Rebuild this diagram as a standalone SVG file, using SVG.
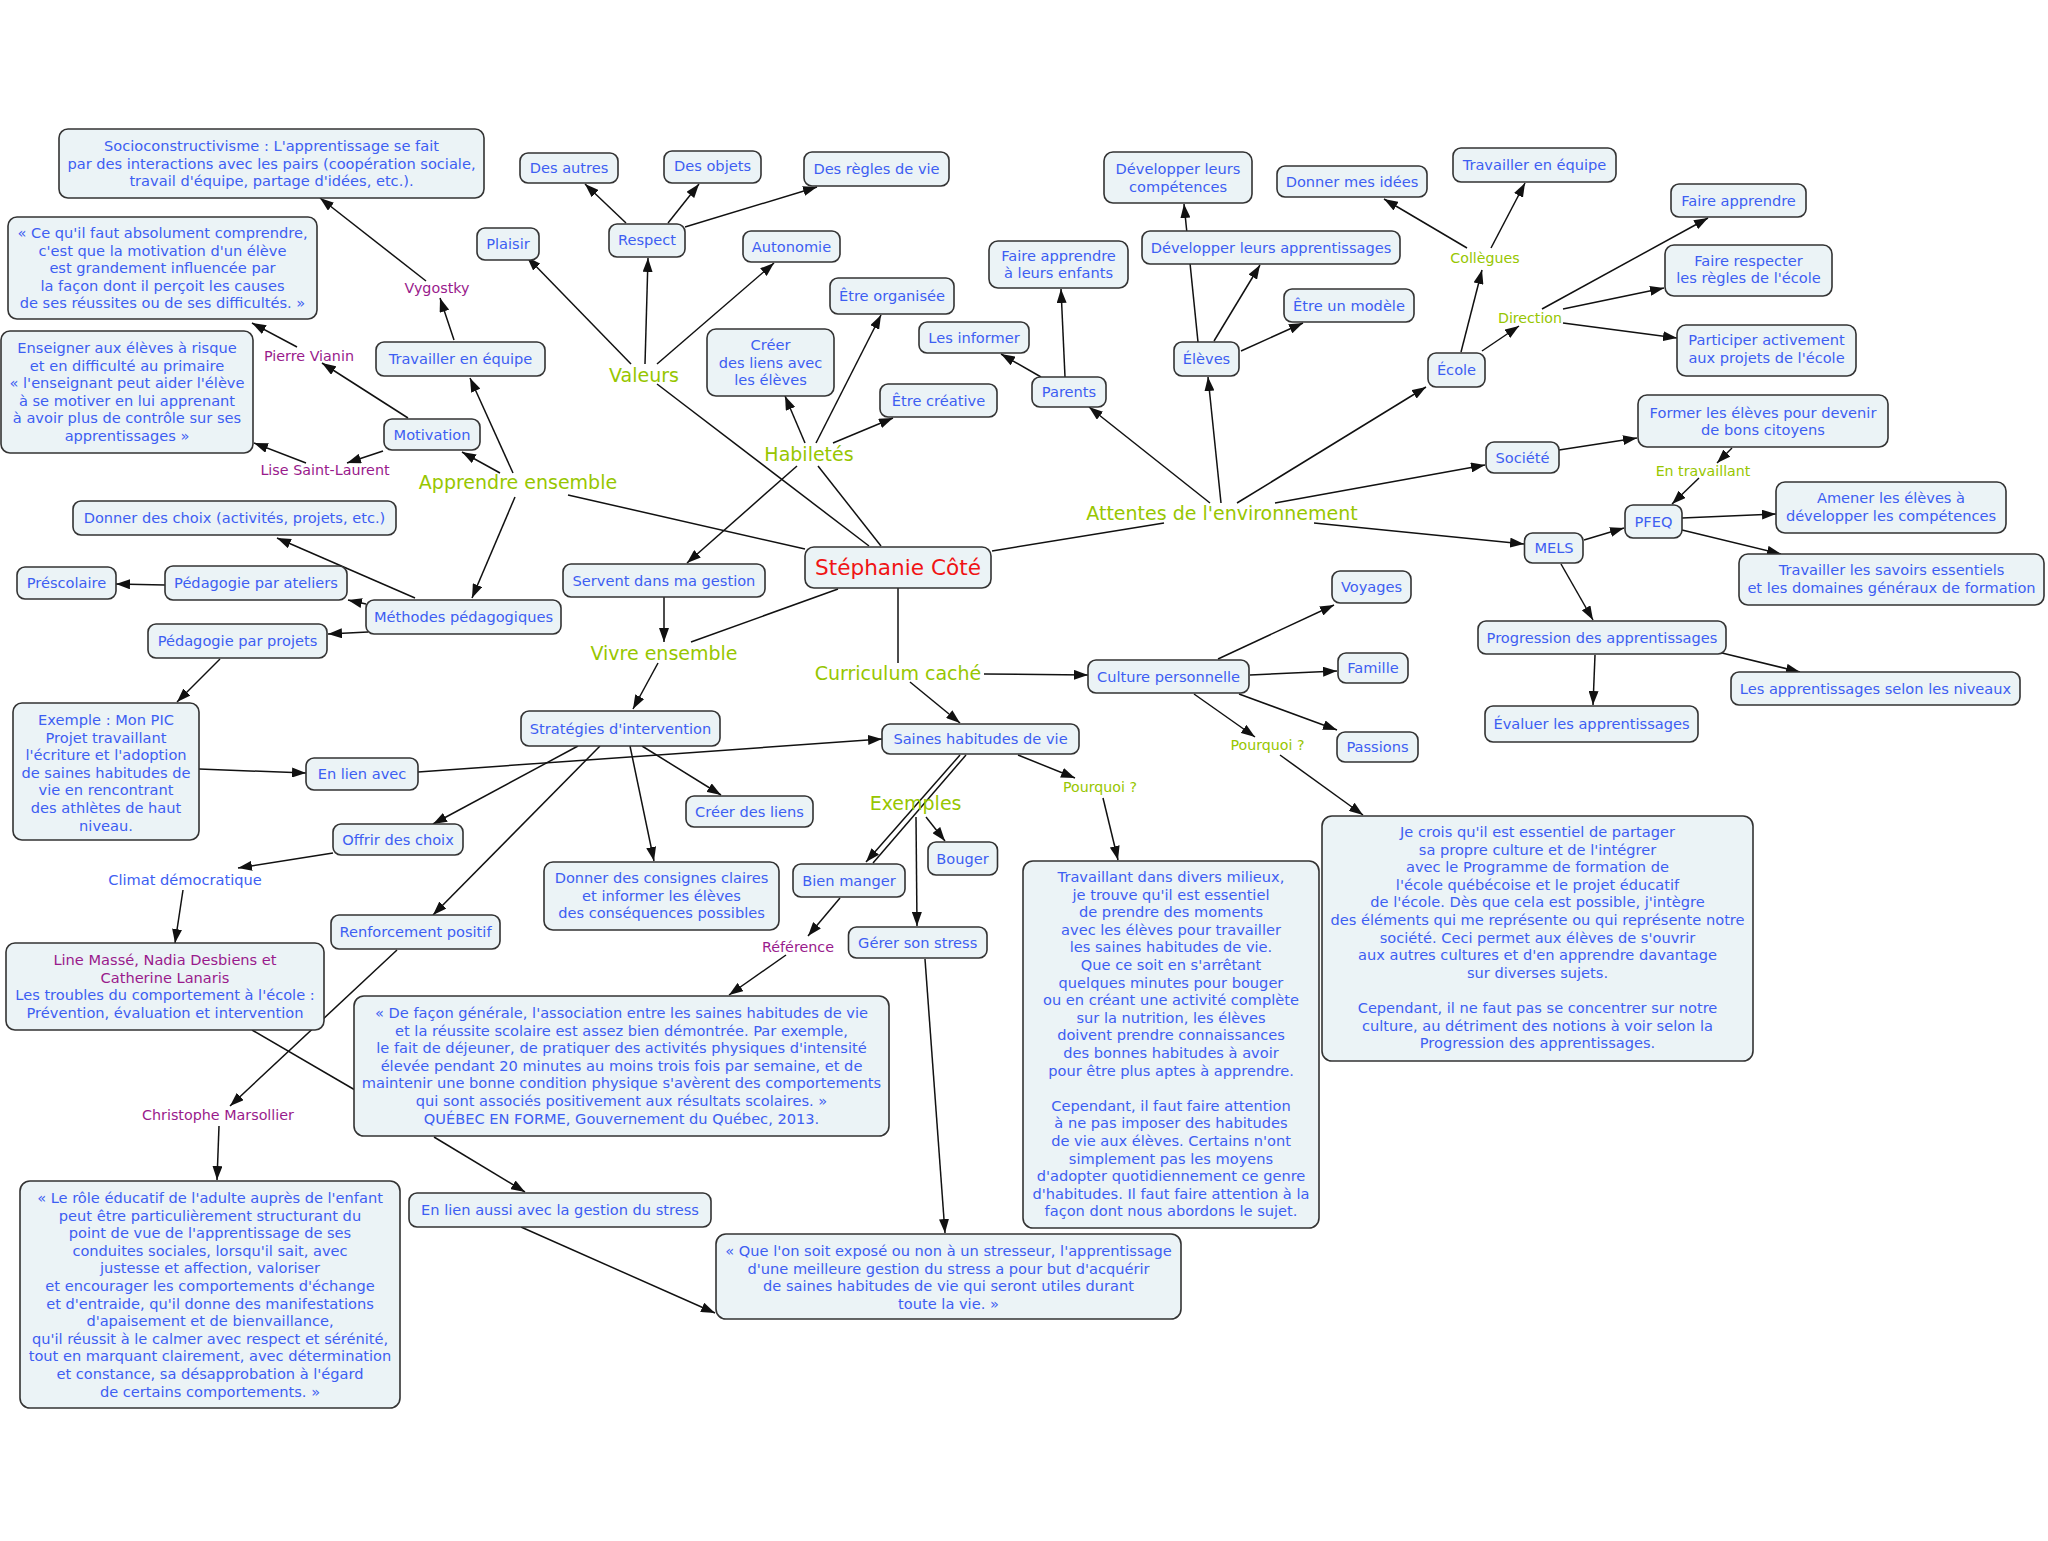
<svg xmlns="http://www.w3.org/2000/svg" width="2048" height="1541" viewBox="0 0 2048 1541">
<style>
rect{fill:#ebf3f6;stroke:#333;stroke-width:1.6}
text{font-family:"DejaVu Sans",Verdana,sans-serif;font-size:14.6px;fill:#3d5ef2;text-anchor:middle}
.g{fill:#97c600;font-size:19px}
.gs{fill:#97c600;font-size:14.2px}
.p{fill:#991a8c}
text.p{font-size:14.3px}
.r{fill:#f01414;font-size:21.6px}
#conn line{stroke:#111;stroke-width:1.5}
#conn line.a{marker-end:url(#ah)}
</style>
<defs>
<marker id="ah" viewBox="0 0 14 10" refX="14" refY="5" markerWidth="14" markerHeight="10" markerUnits="userSpaceOnUse" orient="auto"><path d="M0,0L14,5L0,10z" fill="#111"/></marker>
</defs>
<rect x="0" y="0" width="2048" height="1541" style="fill:#fff;stroke:none"/>
<g id="conn">
<line x1="568" y1="495" x2="805" y2="549"/>
<line x1="657" y1="384" x2="869" y2="546"/>
<line x1="818" y1="466" x2="881" y2="546"/>
<line x1="691" y1="642" x2="838" y2="589"/>
<line x1="898" y1="588" x2="898" y2="663"/>
<line x1="992" y1="551" x2="1164" y2="523"/>
<line x1="252" y1="1030" x2="355" y2="1090"/>
<line x1="966" y1="755" x2="873" y2="863"/>
<line class="a" x1="408" y1="418" x2="322" y2="363"/>
<line class="a" x1="297" y1="347" x2="252" y2="323"/>
<line class="a" x1="383" y1="451" x2="347" y2="463"/>
<line class="a" x1="306" y1="463" x2="254" y2="443"/>
<line class="a" x1="454" y1="340" x2="440" y2="298"/>
<line class="a" x1="426" y1="281" x2="320" y2="198"/>
<line class="a" x1="500" y1="473" x2="462" y2="452"/>
<line class="a" x1="513" y1="473" x2="470" y2="378"/>
<line class="a" x1="515" y1="497" x2="472" y2="598"/>
<line class="a" x1="415" y1="598" x2="277" y2="538"/>
<line class="a" x1="366" y1="604" x2="348" y2="600"/>
<line class="a" x1="368" y1="632" x2="328" y2="634"/>
<line class="a" x1="165" y1="585" x2="116" y2="584"/>
<line class="a" x1="220" y1="659" x2="177" y2="702"/>
<line class="a" x1="199" y1="769" x2="306" y2="773"/>
<line class="a" x1="418" y1="772" x2="882" y2="739"/>
<line class="a" x1="664" y1="597" x2="664" y2="642"/>
<line class="a" x1="658" y1="663" x2="633" y2="709"/>
<line class="a" x1="642" y1="746" x2="721" y2="795"/>
<line class="a" x1="630" y1="746" x2="654" y2="861"/>
<line class="a" x1="578" y1="746" x2="433" y2="824"/>
<line class="a" x1="600" y1="746" x2="433" y2="915"/>
<line class="a" x1="333" y1="853" x2="238" y2="868"/>
<line class="a" x1="183" y1="890" x2="175" y2="943"/>
<line class="a" x1="397" y1="950" x2="230" y2="1106"/>
<line class="a" x1="219" y1="1126" x2="217" y2="1180"/>
<line class="a" x1="984" y1="674" x2="1088" y2="675"/>
<line class="a" x1="910" y1="682" x2="960" y2="723"/>
<line class="a" x1="960" y1="755" x2="866" y2="862"/>
<line class="a" x1="916" y1="817" x2="917" y2="926"/>
<line class="a" x1="926" y1="817" x2="945" y2="841"/>
<line class="a" x1="1018" y1="755" x2="1075" y2="778"/>
<line class="a" x1="1103" y1="798" x2="1118" y2="860"/>
<line class="a" x1="840" y1="898" x2="808" y2="936"/>
<line class="a" x1="786" y1="955" x2="729" y2="995"/>
<line class="a" x1="434" y1="1137" x2="525" y2="1192"/>
<line class="a" x1="521" y1="1227" x2="715" y2="1313"/>
<line class="a" x1="925" y1="959" x2="945" y2="1233"/>
<line class="a" x1="1218" y1="659" x2="1334" y2="605"/>
<line class="a" x1="1250" y1="675" x2="1337" y2="671"/>
<line class="a" x1="1239" y1="694" x2="1337" y2="730"/>
<line class="a" x1="1194" y1="694" x2="1255" y2="737"/>
<line class="a" x1="1280" y1="755" x2="1363" y2="815"/>
<line class="a" x1="1210" y1="503" x2="1089" y2="407"/>
<line class="a" x1="1221" y1="503" x2="1208" y2="377"/>
<line class="a" x1="1237" y1="503" x2="1426" y2="387"/>
<line class="a" x1="1275" y1="503" x2="1485" y2="465"/>
<line class="a" x1="1314" y1="523" x2="1524" y2="544"/>
<line class="a" x1="1041" y1="377" x2="1001" y2="354"/>
<line class="a" x1="1065" y1="377" x2="1061" y2="289"/>
<line class="a" x1="1198" y1="342" x2="1184" y2="204"/>
<line class="a" x1="1214" y1="341" x2="1260" y2="265"/>
<line class="a" x1="1241" y1="351" x2="1303" y2="323"/>
<line class="a" x1="1461" y1="352" x2="1482" y2="270"/>
<line class="a" x1="1467" y1="248" x2="1384" y2="199"/>
<line class="a" x1="1491" y1="248" x2="1525" y2="183"/>
<line class="a" x1="1482" y1="351" x2="1519" y2="326"/>
<line class="a" x1="1542" y1="309" x2="1708" y2="218"/>
<line class="a" x1="1563" y1="309" x2="1664" y2="288"/>
<line class="a" x1="1563" y1="323" x2="1677" y2="338"/>
<line class="a" x1="1559" y1="450" x2="1637" y2="438"/>
<line class="a" x1="1732" y1="448" x2="1717" y2="463"/>
<line class="a" x1="1699" y1="478" x2="1672" y2="504"/>
<line class="a" x1="1584" y1="540" x2="1624" y2="528"/>
<line class="a" x1="1682" y1="518" x2="1776" y2="514"/>
<line class="a" x1="1682" y1="530" x2="1781" y2="554"/>
<line class="a" x1="1561" y1="564" x2="1593" y2="620"/>
<line class="a" x1="1595" y1="655" x2="1593" y2="705"/>
<line class="a" x1="1722" y1="653" x2="1800" y2="672"/>
<line class="a" x1="631" y1="364" x2="527" y2="257"/>
<line class="a" x1="645" y1="364" x2="648" y2="258"/>
<line class="a" x1="657" y1="364" x2="774" y2="263"/>
<line class="a" x1="626" y1="223" x2="585" y2="184"/>
<line class="a" x1="668" y1="223" x2="699" y2="184"/>
<line class="a" x1="685" y1="227" x2="817" y2="187"/>
<line class="a" x1="805" y1="443" x2="785" y2="396"/>
<line class="a" x1="816" y1="443" x2="881" y2="315"/>
<line class="a" x1="833" y1="443" x2="893" y2="418"/>
<line class="a" x1="797" y1="466" x2="687" y2="563"/>
</g>
<g id="socio"><rect x="59" y="129" width="425" height="69" rx="9"/><text><tspan x="271.5" y="151">Socioconstructivisme : L'apprentissage se fait</tspan><tspan x="271.5" y="169">par des interactions avec les pairs (coopération sociale,</tspan><tspan x="271.5" y="186">travail d'équipe, partage d'idées, etc.).</tspan></text></g>
<g id="cequil"><rect x="8" y="217" width="309" height="102" rx="9"/><text><tspan x="162.5" y="238">« Ce qu'il faut absolument comprendre,</tspan><tspan x="162.5" y="255.6">c'est que la motivation d'un élève</tspan><tspan x="162.5" y="273.2">est grandement influencée par</tspan><tspan x="162.5" y="290.8">la façon dont il perçoit les causes</tspan><tspan x="162.5" y="308.4">de ses réussites ou de ses difficultés. »</tspan></text></g>
<g id="enseigner"><rect x="1" y="331" width="252" height="122" rx="9"/><text><tspan x="127" y="353">Enseigner aux élèves à risque</tspan><tspan x="127" y="370.6">et en difficulté au primaire</tspan><tspan x="127" y="388.2">« l'enseignant peut aider l'élève</tspan><tspan x="127" y="405.8">à se motiver en lui apprenant</tspan><tspan x="127" y="423.4">à avoir plus de contrôle sur ses</tspan><tspan x="127" y="441">apprentissages »</tspan></text></g>
<g id="vygostky"><text class="p" x="437" y="293">Vygostky</text></g>
<g id="vianin"><text class="p" x="309" y="361">Pierre Vianin</text></g>
<g id="lise"><text class="p" x="325" y="475">Lise Saint-Laurent</text></g>
<g id="traveqL"><rect x="376" y="342" width="169" height="34" rx="8"/><text x="460.5" y="364">Travailler en équipe</text></g>
<g id="motivation"><rect x="384" y="419" width="96" height="31" rx="8"/><text x="432" y="439.5">Motivation</text></g>
<g id="apprendre"><text class="g" x="518" y="489">Apprendre ensemble</text></g>
<g id="plaisir"><rect x="477" y="228" width="62" height="32" rx="8"/><text x="508" y="249">Plaisir</text></g>
<g id="desautres"><rect x="520" y="153" width="98" height="30" rx="8"/><text x="569" y="173">Des autres</text></g>
<g id="desobjets"><rect x="664" y="151" width="97" height="32" rx="8"/><text x="712.5" y="171">Des objets</text></g>
<g id="desregles"><rect x="804" y="152" width="145" height="34" rx="8"/><text x="876.5" y="174">Des règles de vie</text></g>
<g id="respect"><rect x="609" y="224" width="76" height="33" rx="8"/><text x="647" y="244.5">Respect</text></g>
<g id="autonomie"><rect x="743" y="231" width="97" height="31" rx="8"/><text x="791.5" y="251.5">Autonomie</text></g>
<g id="valeurs"><text class="g" x="644" y="382">Valeurs</text></g>
<g id="organisee"><rect x="830" y="278" width="124" height="36" rx="8"/><text x="892" y="301">Être organisée</text></g>
<g id="creerliensavec"><rect x="707" y="329" width="127" height="67" rx="9"/><text><tspan x="770.5" y="350">Créer</tspan><tspan x="770.5" y="367.6">des liens avec</tspan><tspan x="770.5" y="385.2">les élèves</tspan></text></g>
<g id="informer"><rect x="919" y="322" width="110" height="31" rx="8"/><text x="974" y="342.5">Les informer</text></g>
<g id="creative"><rect x="880" y="384" width="117" height="33" rx="8"/><text x="938.5" y="405.5">Être créative</text></g>
<g id="habiletes"><text class="g" x="809" y="461">Habiletés</text></g>
<g id="faireapprendreenf"><rect x="989" y="241" width="139" height="47" rx="9"/><text><tspan x="1058.5" y="260.7">Faire apprendre</tspan><tspan x="1058.5" y="278.3">à leurs enfants</tspan></text></g>
<g id="devcomp"><rect x="1104" y="152" width="148" height="51" rx="9"/><text><tspan x="1178" y="174">Développer leurs</tspan><tspan x="1178" y="191.6">compétences</tspan></text></g>
<g id="donneridees"><rect x="1277" y="166" width="150" height="31" rx="8"/><text x="1352" y="186.5">Donner mes idées</text></g>
<g id="traveqR"><rect x="1453" y="148" width="163" height="34" rx="8"/><text x="1534.5" y="170">Travailler en équipe</text></g>
<g id="devapp"><rect x="1142" y="231" width="258" height="33" rx="8"/><text x="1271" y="252.5">Développer leurs apprentissages</text></g>
<g id="modele"><rect x="1284" y="289" width="130" height="33" rx="8"/><text x="1349" y="310.5">Être un modèle</text></g>
<g id="eleves"><rect x="1174" y="342" width="65" height="34" rx="8"/><text x="1206.5" y="364">Élèves</text></g>
<g id="parents"><rect x="1032" y="377" width="74" height="30" rx="8"/><text x="1069" y="397">Parents</text></g>
<g id="collegues"><text class="gs" x="1485" y="263">Collègues</text></g>
<g id="ecole"><rect x="1428" y="353" width="57" height="34" rx="8"/><text x="1456.5" y="375">École</text></g>
<g id="direction"><text class="gs" x="1530" y="323">Direction</text></g>
<g id="faireapprendre"><rect x="1671" y="184" width="135" height="33" rx="8"/><text x="1738.5" y="205.5">Faire apprendre</text></g>
<g id="fairerespecter"><rect x="1665" y="245" width="167" height="51" rx="9"/><text><tspan x="1748.5" y="265.7">Faire respecter</tspan><tspan x="1748.5" y="283">les règles de l'école</tspan></text></g>
<g id="participer"><rect x="1677" y="325" width="179" height="51" rx="9"/><text><tspan x="1766.5" y="345.3">Participer activement</tspan><tspan x="1766.5" y="362.7">aux projets de l'école</tspan></text></g>
<g id="societe"><rect x="1486" y="442" width="73" height="31" rx="8"/><text x="1522.5" y="462.5">Société</text></g>
<g id="former"><rect x="1638" y="395" width="250" height="52" rx="9"/><text><tspan x="1763" y="417.7">Former les élèves pour devenir</tspan><tspan x="1763" y="435.3">de bons citoyens</tspan></text></g>
<g id="entravaillant"><text class="gs" x="1703" y="476">En travaillant</text></g>
<g id="pfeq"><rect x="1625" y="505" width="57" height="33" rx="8"/><text x="1653.5" y="526.5">PFEQ</text></g>
<g id="mels"><rect x="1524.5" y="533" width="58.5" height="30" rx="8"/><text x="1554" y="553">MELS</text></g>
<g id="amener"><rect x="1776" y="482" width="230" height="51" rx="9"/><text><tspan x="1891" y="503.3">Amener les élèves à</tspan><tspan x="1891" y="521">développer les compétences</tspan></text></g>
<g id="savoirs"><rect x="1739" y="554" width="305" height="51" rx="9"/><text><tspan x="1891.5" y="575">Travailler les savoirs essentiels</tspan><tspan x="1891.5" y="592.7">et les domaines généraux de formation</tspan></text></g>
<g id="progression"><rect x="1478" y="621" width="248" height="33" rx="8"/><text x="1602" y="642.5">Progression des apprentissages</text></g>
<g id="niveaux"><rect x="1731" y="672" width="289" height="33" rx="8"/><text x="1875.5" y="693.5">Les apprentissages selon les niveaux</text></g>
<g id="evaluer"><rect x="1485" y="706" width="213" height="36" rx="8"/><text x="1591.5" y="729">Évaluer les apprentissages</text></g>
<g id="attentes"><text class="g" x="1222" y="520">Attentes de l'environnement</text></g>
<g id="stephanie"><rect x="805" y="547" width="186" height="41" rx="9"/><text class="r" x="898" y="575">Stéphanie Côté</text></g>
<g id="servent"><rect x="563" y="564" width="202" height="33" rx="8"/><text x="664" y="585.5">Servent dans ma gestion</text></g>
<g id="vivre"><text class="g" x="664" y="660">Vivre ensemble</text></g>
<g id="curriculum"><text class="g" x="898" y="680">Curriculum caché</text></g>
<g id="culture"><rect x="1088" y="660" width="161" height="33" rx="8"/><text x="1168.5" y="681.5">Culture personnelle</text></g>
<g id="voyages"><rect x="1332" y="571" width="79" height="32" rx="8"/><text x="1371.5" y="592">Voyages</text></g>
<g id="famille"><rect x="1338" y="653" width="70" height="30" rx="8"/><text x="1373" y="673">Famille</text></g>
<g id="passions"><rect x="1337" y="732" width="81" height="30" rx="8"/><text x="1377.5" y="752">Passions</text></g>
<g id="pourquoiR"><text class="gs" x="1267.5" y="750">Pourquoi ?</text></g>
<g id="pourquoiL"><text class="gs" x="1100" y="792">Pourquoi ?</text></g>
<g id="jecrois"><rect x="1322" y="816" width="431" height="245" rx="10"/><text><tspan x="1537.5" y="837">Je crois qu'il est essentiel de partager</tspan><tspan x="1537.5" y="854.6">sa propre culture et de l'intégrer</tspan><tspan x="1537.5" y="872.2">avec le Programme de formation de</tspan><tspan x="1537.5" y="889.8">l'école québécoise et le projet éducatif</tspan><tspan x="1537.5" y="907.4">de l'école. Dès que cela est possible, j'intègre</tspan><tspan x="1537.5" y="925">des éléments qui me représente ou qui représente notre</tspan><tspan x="1537.5" y="942.6">société. Ceci permet aux élèves de s'ouvrir</tspan><tspan x="1537.5" y="960.2">aux autres cultures et d'en apprendre davantage</tspan><tspan x="1537.5" y="977.8">sur diverses sujets.</tspan><tspan x="1537.5" y="1013">Cependant, il ne faut pas se concentrer sur notre</tspan><tspan x="1537.5" y="1030.6">culture, au détriment des notions à voir selon la</tspan><tspan x="1537.5" y="1048.2">Progression des apprentissages.</tspan></text></g>
<g id="saines"><rect x="882" y="724" width="197" height="30" rx="8"/><text x="980.5" y="744">Saines habitudes de vie</text></g>
<g id="strategies"><rect x="521" y="711" width="199" height="35" rx="8"/><text x="620.5" y="733.5">Stratégies d'intervention</text></g>
<g id="creerliens"><rect x="686" y="796" width="127" height="31" rx="8"/><text x="749.5" y="816.5">Créer des liens</text></g>
<g id="consignes"><rect x="544" y="862" width="235" height="68" rx="9"/><text><tspan x="661.5" y="883">Donner des consignes claires</tspan><tspan x="661.5" y="900.6">et informer les élèves</tspan><tspan x="661.5" y="918.2">des conséquences possibles</tspan></text></g>
<g id="exemples"><text class="g" x="915.6" y="810">Exemples</text></g>
<g id="bouger"><rect x="928" y="842" width="69.5" height="33" rx="8"/><text x="962.5" y="863.5">Bouger</text></g>
<g id="bienmanger"><rect x="793" y="864" width="112" height="33" rx="8"/><text x="849" y="885.5">Bien manger</text></g>
<g id="reference"><text class="p" x="798" y="952">Référence</text></g>
<g id="stress"><rect x="848.5" y="927" width="138.5" height="31" rx="8"/><text x="917.7" y="947.5">Gérer son stress</text></g>
<g id="travaillant"><rect x="1023" y="861" width="296" height="367" rx="10"/><text><tspan x="1171" y="882">Travaillant dans divers milieux,</tspan><tspan x="1171" y="899.6">je trouve qu'il est essentiel</tspan><tspan x="1171" y="917.2">de prendre des moments</tspan><tspan x="1171" y="934.8">avec les élèves pour travailler</tspan><tspan x="1171" y="952.4">les saines habitudes de vie.</tspan><tspan x="1171" y="970">Que ce soit en s'arrêtant</tspan><tspan x="1171" y="987.6">quelques minutes pour bouger</tspan><tspan x="1171" y="1005.2">ou en créant une activité complète</tspan><tspan x="1171" y="1022.8">sur la nutrition, les élèves</tspan><tspan x="1171" y="1040.4">doivent prendre connaissances</tspan><tspan x="1171" y="1058">des bonnes habitudes à avoir</tspan><tspan x="1171" y="1075.6">pour être plus aptes à apprendre.</tspan><tspan x="1171" y="1110.8">Cependant, il faut faire attention</tspan><tspan x="1171" y="1128.4">à ne pas imposer des habitudes</tspan><tspan x="1171" y="1146">de vie aux élèves. Certains n'ont</tspan><tspan x="1171" y="1163.6">simplement pas les moyens</tspan><tspan x="1171" y="1181.2">d'adopter quotidiennement ce genre</tspan><tspan x="1171" y="1198.8">d'habitudes. Il faut faire attention à la</tspan><tspan x="1171" y="1216.4">façon dont nous abordons le sujet.</tspan></text></g>
<g id="methodes"><rect x="366" y="600" width="195" height="34" rx="8"/><text x="463.5" y="622">Méthodes pédagogiques</text></g>
<g id="donnerchoix"><rect x="73" y="501" width="323" height="34" rx="8"/><text x="234.5" y="523">Donner des choix (activités, projets, etc.)</text></g>
<g id="prescolaire"><rect x="17" y="567" width="99" height="32" rx="8"/><text x="66.5" y="588">Préscolaire</text></g>
<g id="ateliers"><rect x="165" y="566" width="182" height="34" rx="8"/><text x="256" y="588">Pédagogie par ateliers</text></g>
<g id="projets"><rect x="148" y="624" width="179" height="34" rx="8"/><text x="237.5" y="646">Pédagogie par projets</text></g>
<g id="pic"><rect x="13" y="703" width="186" height="137" rx="9"/><text><tspan x="106" y="725">Exemple : Mon PIC</tspan><tspan x="106" y="742.6">Projet travaillant</tspan><tspan x="106" y="760.2">l'écriture et l'adoption</tspan><tspan x="106" y="777.8">de saines habitudes de</tspan><tspan x="106" y="795.4">vie en rencontrant</tspan><tspan x="106" y="813">des athlètes de haut</tspan><tspan x="106" y="830.6">niveau.</tspan></text></g>
<g id="enlienavec"><rect x="306" y="758" width="112" height="32" rx="8"/><text x="362" y="779">En lien avec</text></g>
<g id="offrir"><rect x="333" y="824" width="130" height="31" rx="8"/><text x="398" y="844.5">Offrir des choix</text></g>
<g id="climat"><text x="185" y="885">Climat démocratique</text></g>
<g id="renforcement"><rect x="331" y="915" width="169" height="34" rx="8"/><text x="415.5" y="937">Renforcement positif</text></g>
<g id="masse"><rect x="6" y="943" width="318" height="87" rx="9"/><text><tspan class="p" x="165" y="965">Line Massé, Nadia Desbiens et</tspan><tspan class="p" x="165" y="982.6">Catherine Lanaris</tspan><tspan x="165" y="1000.2">Les troubles du comportement à l'école :</tspan><tspan x="165" y="1017.8">Prévention, évaluation et intervention</tspan></text></g>
<g id="marsollier"><text class="p" x="218" y="1120">Christophe Marsollier</text></g>
<g id="role"><rect x="20" y="1181" width="380" height="227" rx="10"/><text><tspan x="210" y="1203">« Le rôle éducatif de l'adulte auprès de l'enfant</tspan><tspan x="210" y="1220.6">peut être particulièrement structurant du</tspan><tspan x="210" y="1238.2">point de vue de l'apprentissage de ses</tspan><tspan x="210" y="1255.8">conduites sociales, lorsqu'il sait, avec</tspan><tspan x="210" y="1273.4">justesse et affection, valoriser</tspan><tspan x="210" y="1291">et encourager les comportements d'échange</tspan><tspan x="210" y="1308.6">et d'entraide, qu'il donne des manifestations</tspan><tspan x="210" y="1326.2">d'apaisement et de bienvaillance,</tspan><tspan x="210" y="1343.8">qu'il réussit à le calmer avec respect et sérénité,</tspan><tspan x="210" y="1361.4">tout en marquant clairement, avec détermination</tspan><tspan x="210" y="1379">et constance, sa désapprobation à l'égard</tspan><tspan x="210" y="1396.6">de certains comportements. »</tspan></text></g>
<g id="facon"><rect x="354" y="996" width="535" height="140" rx="10"/><text><tspan x="621.5" y="1018">« De façon générale, l'association entre les saines habitudes de vie</tspan><tspan x="621.5" y="1035.6">et la réussite scolaire est assez bien démontrée. Par exemple,</tspan><tspan x="621.5" y="1053.2">le fait de déjeuner, de pratiquer des activités physiques d'intensité</tspan><tspan x="621.5" y="1070.8">élevée pendant 20 minutes au moins trois fois par semaine, et de</tspan><tspan x="621.5" y="1088.4">maintenir une bonne condition physique s'avèrent des comportements</tspan><tspan x="621.5" y="1106">qui sont associés positivement aux résultats scolaires. »</tspan><tspan x="621.5" y="1123.6">QUÉBEC EN FORME, Gouvernement du Québec, 2013.</tspan></text></g>
<g id="enlienaussi"><rect x="409" y="1193" width="302" height="34" rx="8"/><text x="560" y="1215">En lien aussi avec la gestion du stress</text></g>
<g id="quelon"><rect x="716" y="1234" width="465" height="85" rx="10"/><text><tspan x="948.5" y="1256">« Que l'on soit exposé ou non à un stresseur, l'apprentissage</tspan><tspan x="948.5" y="1273.6">d'une meilleure gestion du stress a pour but d'acquérir</tspan><tspan x="948.5" y="1291.2">de saines habitudes de vie qui seront utiles durant</tspan><tspan x="948.5" y="1308.8">toute la vie. »</tspan></text></g>
</svg>
